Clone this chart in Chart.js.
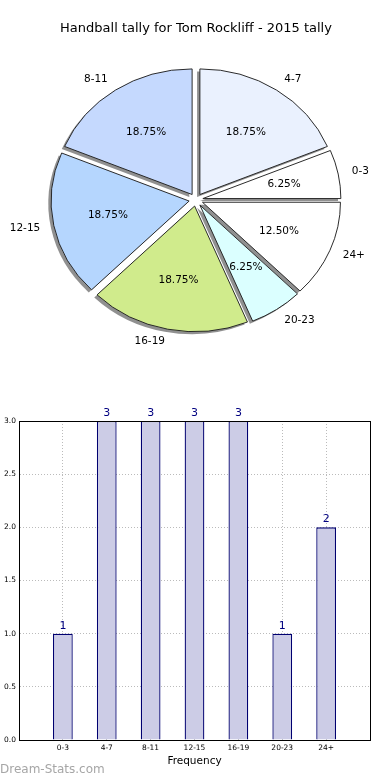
<!DOCTYPE html>
<html>
<head>
<meta charset="utf-8">
<script src="https://cdn.jsdelivr.net/npm/chart.js@4/dist/chart.umd.min.js"></script>
<style>
  body { margin: 0; background: #fff; width: 390px; height: 780px; overflow: hidden; position: relative; font-family: 'DejaVu Sans', sans-serif; }
  #pieBox { position: absolute; left: 0; top: 0; width: 390px; height: 400px; }
  #barBox { position: absolute; left: 0; top: 400px; width: 390px; height: 380px; }
  #mark { position: absolute; left: 0; top: 762px; font-size: 12px; color: #a6a6a6; }
</style>
</head>
<body>
<div id="pieBox"><canvas id="pie"></canvas></div>
<div id="barBox"><canvas id="bar"></canvas></div>
<div id="mark">Dream-Stats.com</div>
<script>
// tally per age group
const ageGroups = ['0-3', '4-7', '8-11', '12-15', '16-19', '20-23', '24+'];
const tallies = [1, 3, 3, 3, 3, 1, 2];
const sliceColors = ['#ffffff', '#eaf1fe', '#c5d9fe', '#b5d6fe', '#d0eb8c', '#dbffff', '#ffffff'];
const chartTitle = 'Handball tally for Tom Rockliff - 2015 tally';

Chart.defaults.font.family = "'DejaVu Sans', sans-serif";
Chart.defaults.color = '#000';

const total = tallies.reduce((a, b) => a + b, 0);
const R = 138, EXPL = 7, SY = 0.91;

// matplotlib draws counter-clockwise from 3 o'clock, chart.js clockwise -> reverse
const pieLabels = ageGroups.slice().reverse();
const pieValues = tallies.slice().reverse();
const pieColors = sliceColors.slice().reverse();

const piePlugin = {
  id: 'mplPie',
  beforeDatasetsDraw(chart) {
    const ctx = chart.ctx;
    const arcs = chart.getDatasetMeta(0).data;
    const cx = arcs[0].x, cy = arcs[0].y;
    const shift = (arc) => {
      const mid = (arc.startAngle + arc.endAngle) / 2;
      ctx.translate(cx, cy);
      ctx.scale(1, SY);
      ctx.translate(-cx, -cy);
      ctx.translate(Math.cos(mid) * EXPL, Math.sin(mid) * EXPL);
    };
    // shadows first
    arcs.forEach(arc => {
      const g = Object.create(arc);
      g.options = Object.assign({}, arc.options, { backgroundColor: 'rgba(70,70,70,0.6)', borderWidth: 0 });
      ctx.save();
      shift(arc);
      ctx.translate(-2.8, 2.8);
      g.draw(ctx);
      ctx.restore();
    });
    arcs.forEach(arc => {
      ctx.save();
      shift(arc);
      arc.draw(ctx);
      ctx.restore();
    });
    return false;
  },
  afterDraw(chart) {
    const ctx = chart.ctx;
    const arcs = chart.getDatasetMeta(0).data;
    ctx.save();
    ctx.fillStyle = '#000';
    ctx.textBaseline = 'middle';
    arcs.forEach((arc, i) => {
      const mid = (arc.startAngle + arc.endAngle) / 2;
      const ux = Math.cos(mid), uy = Math.sin(mid);
      const dl = 1.1 * R + EXPL, dp = 0.6 * R + EXPL;
      ctx.font = "10.5px 'DejaVu Sans'";
      ctx.textAlign = ux > 0 ? 'left' : 'right';
      ctx.fillText(pieLabels[i], arc.x + ux * dl, arc.y + uy * dl * SY);
      ctx.textAlign = 'center';
      const pct = (pieValues[i] / total * 100).toFixed(2) + '%';
      ctx.fillText(pct, arc.x + ux * dp, arc.y + uy * dp * SY);
    });
    ctx.restore();
  }
};

new Chart(document.getElementById('pie'), {
  type: 'pie',
  data: {
    labels: pieLabels,
    datasets: [{
      data: pieValues,
      backgroundColor: pieColors,
      borderColor: '#222',
      borderWidth: 1,
      offset: 0
    }]
  },
  options: {
    responsive: true,
    maintainAspectRatio: false,
    animation: false,
    rotation: 90,
    radius: R,
    layout: { padding: { left: 2, right: 0, top: 0, bottom: 47 } },
    plugins: {
      legend: { display: false },
      tooltip: { enabled: false },
      title: {
        display: true,
        text: chartTitle,
        color: '#000',
        font: { size: 13, weight: 'normal' },
        padding: { top: 21, bottom: 10 }
      }
    }
  },
  plugins: [piePlugin]
});

// bar chart
const barPlugin = {
  id: 'mplBar',
  afterDraw(chart) {
    const ctx = chart.ctx;
    const a = chart.chartArea;
    ctx.save();
    ctx.strokeStyle = '#000';
    ctx.lineWidth = 1;
    ctx.strokeRect(Math.round(a.left) + 0.5, Math.round(a.top) + 0.5, Math.round(a.right - a.left), Math.round(a.bottom - a.top));
    ctx.fillStyle = '#000080';
    ctx.font = "11px 'DejaVu Sans'";
    ctx.textAlign = 'center';
    ctx.textBaseline = 'middle';
    chart.getDatasetMeta(0).data.forEach((el, i) => {
      ctx.fillText(String(tallies[i]), el.x, el.y - 8);
    });
    ctx.restore();
  }
};

new Chart(document.getElementById('bar'), {
  type: 'bar',
  data: {
    datasets: [{
      data: tallies.map((v, i) => ({ x: i, y: v })),
      backgroundColor: '#ccccE6',
      borderColor: '#000070',
      borderWidth: 1.3,
      barPercentage: 0.45,
      categoryPercentage: 1
    }]
  },
  options: {
    responsive: true,
    maintainAspectRatio: false,
    animation: false,
    layout: { padding: { left: 0, right: 20, top: 21, bottom: 0 } },
    plugins: { legend: { display: false }, tooltip: { enabled: false } },
    scales: {
      x: {
        type: 'linear',
        min: -1,
        max: 7,
        offset: false,
        z: 1,
        afterFit: s => { s.height = 40; },
        ticks: {
          stepSize: 1,
          autoSkip: false,
          maxRotation: 0,
          padding: 4,
          font: { size: 7.5 },
          color: '#000',
          callback: v => ageGroups[v] || ''
        },
        grid: { color: '#bbb', drawTicks: false, offset: false },
        border: { color: '#000', dash: [1, 2] },
        title: { display: true, text: 'Frequency', color: '#000', font: { size: 10.5 }, padding: { top: 2, bottom: 12 } }
      },
      y: {
        min: 0,
        max: 3,
        z: 1,
        afterFit: s => { s.width = 19; },
        ticks: {
          stepSize: 0.5,
          padding: 3,
          font: { size: 7.5 },
          color: '#000',
          callback: v => v.toFixed(1)
        },
        grid: { color: '#bbb', drawTicks: false },
        border: { color: '#000', dash: [1, 2] }
      }
    }
  },
  plugins: [barPlugin]
});
</script>
</body>
</html>
